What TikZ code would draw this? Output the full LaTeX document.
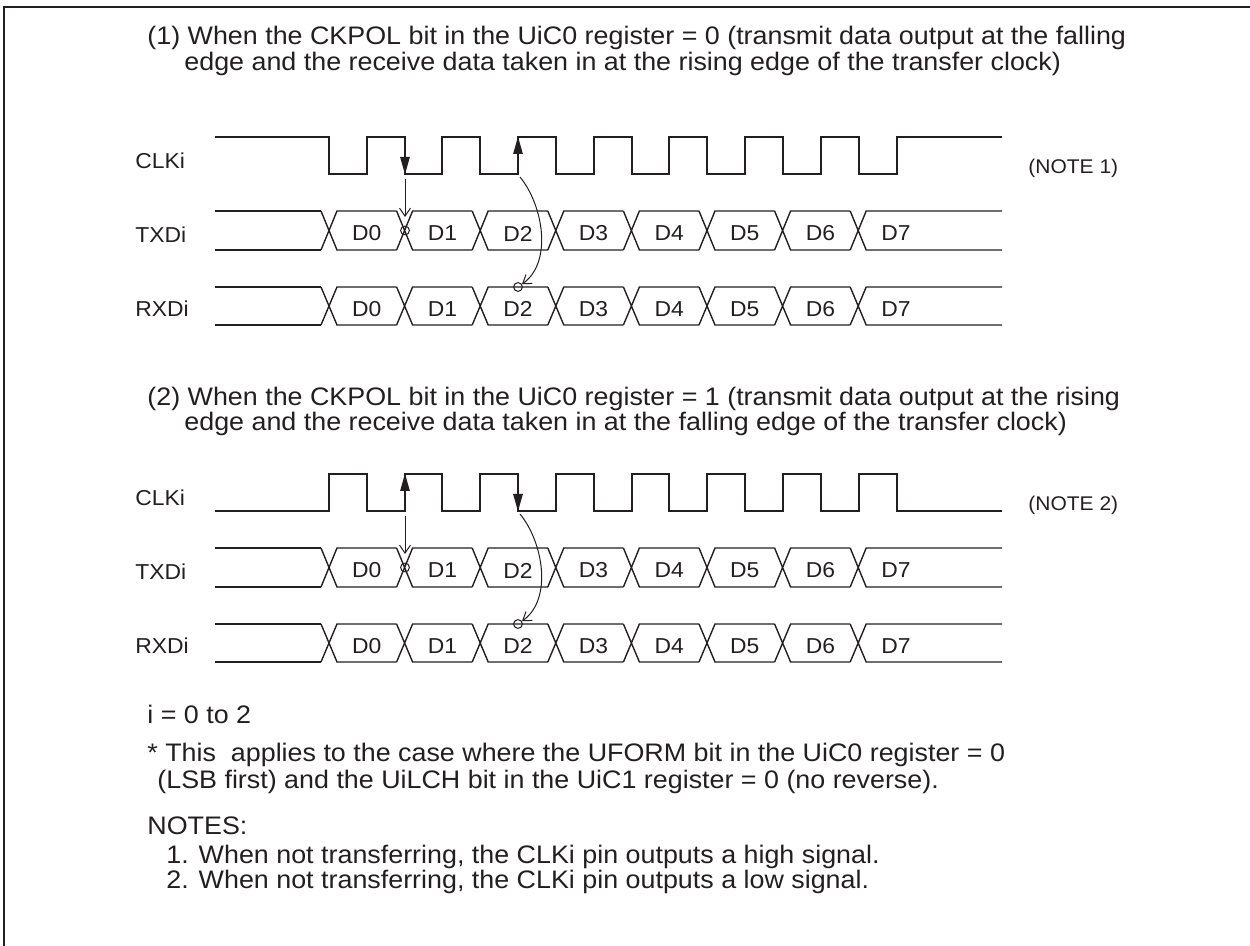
\documentclass[tikz,border=0pt]{standalone}
\usepackage{fontspec}
\setmainfont{Liberation Sans}[FakeStretch=1.06]
\usetikzlibrary{arrows.meta}
\definecolor{ink}{RGB}{35,31,32}
\tikzset{
  wave/.style={draw=ink, line width=0.7pt},
  edgearrow/.style={draw=ink, line width=1.3pt, -{Triangle[length=9pt,width=4.5pt]}},
  pointer/.style={draw=ink, line width=0.5pt, -{Straight Barb[length=4pt,width=5.5pt]}},
  sample/.style={circle, draw=ink, line width=0.5pt, inner sep=0pt, minimum size=4.4pt},
  signame/.style={anchor=west, inner sep=0pt, text=ink, font=\fontsize{10.8}{12}\selectfont},
  bitname/.style={inner sep=0pt, text=ink, font=\fontsize{10.8}{12}\selectfont},
  notetag/.style={anchor=west, inner sep=0pt, text=ink, font=\fontsize{9.9}{11}\selectfont},
  bodytext/.style={anchor=base west, inner sep=0pt, text=ink, font=\fontsize{12.67}{14}\selectfont},
}
% data bus: #1 top y, #2 bottom y, #3 name prefix
\newcommand{\databus}[3]{%
  \draw[wave] (215,#1) -- (321,#1) (215,#2) -- (321,#2);
  \foreach \j in {0,...,7} {
    \pgfmathsetmacro{\crossx}{329+75.6*\j}
    \pgfmathsetmacro{\nextx}{\j==7 ? 1002 : \crossx+75.6-8}
    \draw[wave] (\crossx-8,#1) -- (\crossx+8,#2) -- (\nextx,#2)
                (\crossx-8,#2) -- (\crossx+8,#1) -- (\nextx,#1);
    \node[bitname] (#3\j) at (\crossx+37.8,{(#1+#2)/2+3}) {D\j};
  }
}

\begin{document}
\begin{tikzpicture}[x=0.5pt,y=-0.5pt]
\useasboundingbox (0,0) rectangle (1250,946);
\draw[ink, line width=1.2pt] (1250,7) -- (4,7) -- (4,946);

% (1) CKPOL = 0
\node[bodytext] (titlea1) at (147,45) {(1) When the CKPOL bit in the UiC0 register = 0 (transmit data output at the falling};
\node[bodytext] (titlea2) at (184,71) {edge and the receive data taken in at the rising edge of the transfer clock)};

\node[signame] (clka) at (135,161) {CLKi};
\node[signame] (txda) at (135,235) {TXDi};
\node[signame] (rxda) at (135,309) {RXDi};
\node[notetag] (notea) at (1028,168) {(NOTE 1)};

\draw[wave] (215,137) -| (329,174) -| (367,137) -| (405,174) -| (442,137) -| (480,174) -| (518,137) -| (556,174) -| (594,137) -| (632,174) -| (669,137) -| (707,174) -| (745,137) -| (783,174) -| (821,137) -| (859,174) -| (897,137) -- (1002,137);
\databus{211}{250}{txa}
\databus{287}{325}{rxa}

\node[sample] (txmarka) at (405,230.5) {};
\node[sample] (rxmarka) at (518,287) {};
\coordinate (fallhia) at (405,137);
\coordinate (falllowa) at (405,175);
\coordinate (txfroma) at (405,179);
\coordinate (txtipa) at (405,217);
\coordinate (riselowa) at (518,174);
\coordinate (risehia) at (518,136);
\coordinate (rxfroma) at (520,177);
\draw[edgearrow] (fallhia) -- (falllowa);
\draw[pointer] (txfroma) -- (txtipa);
\draw[edgearrow] (riselowa) -- (risehia);
\draw[pointer] (rxfroma) .. controls (543,205) and (553,262) .. (rxmarka);

% (2) CKPOL = 1
\node[bodytext] (titleb1) at (147,406) {(2) When the CKPOL bit in the UiC0 register = 1 (transmit data output at the rising};
\node[bodytext] (titleb2) at (184,431) {edge and the receive data taken in at the falling edge of the transfer clock)};

\node[signame] (clkb) at (135,498) {CLKi};
\node[signame] (txdb) at (135,572) {TXDi};
\node[signame] (rxdb) at (135,646) {RXDi};
\node[notetag] (noteb) at (1028,505) {(NOTE 2)};

\draw[wave] (215,511) -| (329,474) -| (367,511) -| (405,474) -| (442,511) -| (480,474) -| (518,511) -| (556,474) -| (594,511) -| (632,474) -| (669,511) -| (707,474) -| (745,511) -| (783,474) -| (821,511) -| (859,474) -| (897,511) -- (1002,511);
\databus{548}{587}{txb}
\databus{624}{662}{rxb}

\node[sample] (txmarkb) at (405,567.5) {};
\node[sample] (rxmarkb) at (518,624) {};
\coordinate (riselowb) at (405,511);
\coordinate (risehib) at (405,473);
\coordinate (txfromb) at (405,516);
\coordinate (txtipb) at (405,554);
\coordinate (fallhib) at (518,474);
\coordinate (falllowb) at (518,512);
\coordinate (rxfromb) at (520,514);
\draw[edgearrow] (riselowb) -- (risehib);
\draw[pointer] (txfromb) -- (txtipb);
\draw[edgearrow] (fallhib) -- (falllowb);
\draw[pointer] (rxfromb) .. controls (543,542) and (553,599) .. (rxmarkb);

% notes
\node[bodytext] (range) at (147,724) {i = 0 to 2};
\node[bodytext] (foota) at (147,762) {* This\ \ applies to the case where the UFORM bit in the UiC0 register = 0};
\node[bodytext] (footb) at (157,789) {(LSB first) and the UiLCH bit in the UiC1 register = 0 (no reverse).};
\node[bodytext] (notes) at (147,835) {NOTES:};
\node[bodytext] (noteone) at (166,864) {1. When not transferring, the CLKi pin outputs a high signal.};
\node[bodytext] (notetwo) at (166,889) {2. When not transferring, the CLKi pin outputs a low signal.};
\end{tikzpicture}
\end{document}
